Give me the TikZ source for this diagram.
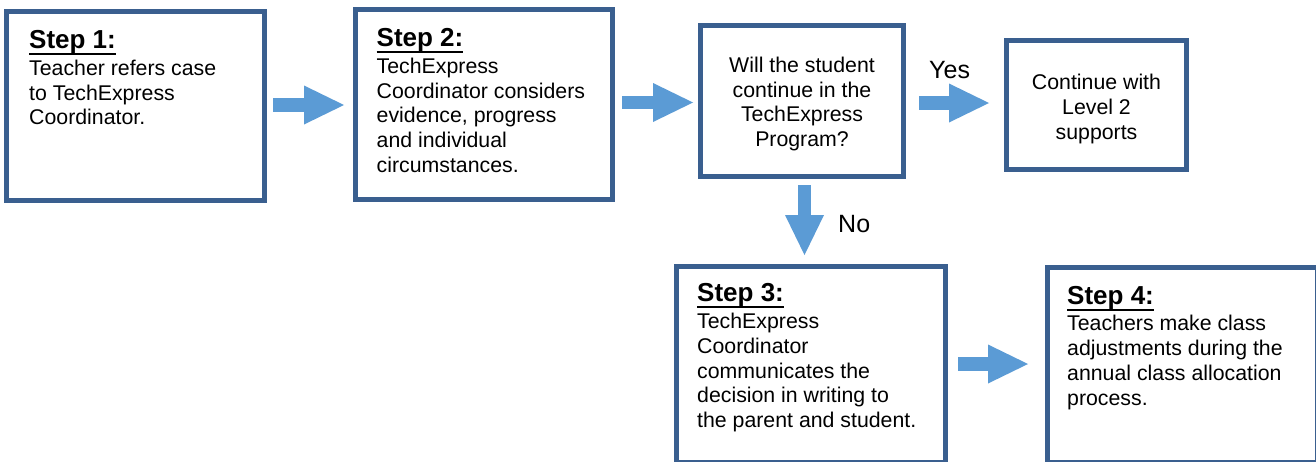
\documentclass[tikz,border=0pt]{standalone}
\usepackage{fontspec}
\setmainfont{Liberation Sans}
\usetikzlibrary{arrows.meta}
\definecolor{boxblue}{HTML}{3A5F8F}
\definecolor{arrowblue}{HTML}{5B9BD5}
\newcommand\stephead[1]{\setbox0\hbox{\fontsize{26pt}{30pt}\selectfont\bfseries #1}\rule{0pt}{20pt}\rlap{\rule[-6.3pt]{\wd0}{1.8pt}}\box0}
\begin{document}
\begin{tikzpicture}[x=1pt,y=-1pt,
  box/.style={draw=boxblue,line width=5pt,inner sep=0pt,fill=white},
  bodytext/.style={anchor=north west,inner sep=0pt,align=left,font=\fontsize{21.3pt}{24.7pt}\selectfont},
  ctext/.style={align=center,inner sep=0pt,font=\fontsize{21.3pt}{24.7pt}\selectfont},
  barrow/.style={draw=arrowblue,line width=13.5pt,-{Triangle[length=40pt,width=39pt,line width=0pt]}},
  lab/.style={anchor=base west,inner sep=0pt,font=\fontsize{25pt}{30pt}\selectfont}]
\useasboundingbox (0,0) rectangle (1316,461);
\clip (0,0) rectangle (1316,461);
\fill[white] (0,0) rectangle (1316,461);

% boxes
\node[box,minimum width=258pt,minimum height=189pt] (s1) at (135.5,106) {};
\node[box,minimum width=257pt,minimum height=190pt] (s2) at (484,104.5) {};
\node[box,minimum width=203pt,minimum height=151pt] (q) at (802,101) {};
\node[box,minimum width=180pt,minimum height=129pt] (yesbox) at (1096.5,105) {};
\node[box,minimum width=269pt,minimum height=196pt] (s3) at (811,364.5) {};
\node[box,minimum width=270pt,minimum height=195pt] (s4) at (1182.5,365) {};

% texts
\node[ctext] (tq) at (802,104) {Will the student\\ continue in the\\ TechExpress\\ Program?};
\node[ctext] (ty) at (1096.5,109) {Continue with\\ Level 2\\ supports};
\node[bodytext] (t1) at (29,28.5) {\stephead{Step 1:}\\[2pt] Teacher refers case\\ to TechExpress\\ Coordinator.};
\node[bodytext] (t2) at (376.5,26.5) {\stephead{Step 2:}\\[2pt] TechExpress\\ Coordinator considers\\ evidence, progress\\ and individual\\ circumstances.};
\node[bodytext] (t3) at (697,281.7) {\stephead{Step 3:}\\[2pt] TechExpress\\ Coordinator\\ communicates the\\ decision in writing to\\ the parent and student.};
\node[bodytext] (t4) at (1067,284) {\stephead{Step 4:}\\[2pt] Teachers make class\\ adjustments during the\\ annual class allocation\\ process.};

% labels
\node[lab] (yes) at (929,78) {Yes};
\node[lab] (no) at (838,232) {No};

% arrows
\coordinate (r1) at (0,105);
\coordinate (r2) at (0,102.5);
\coordinate (r3) at (0,103);
\coordinate (r4) at (0,364);
\coordinate (cd) at (804.5,0);
\draw[barrow,shorten <=6pt,shorten >=9pt] (s1.east |- r1) -- (s2.west |- r1);
\draw[barrow,shorten <=7pt,shorten >=5pt] (s2.east |- r2) -- (q.west |- r2);
\draw[barrow,shorten <=13pt,shorten >=15pt] (q.east |- r3) -- (yesbox.west |- r3);
\draw[barrow,shorten <=6pt,shorten >=9pt] (q.south -| cd) -- (s3.north -| cd);
\draw[barrow,shorten <=10pt,shorten >=17pt] (s3.east |- r4) -- (s4.west |- r4);
\end{tikzpicture}
\end{document}
